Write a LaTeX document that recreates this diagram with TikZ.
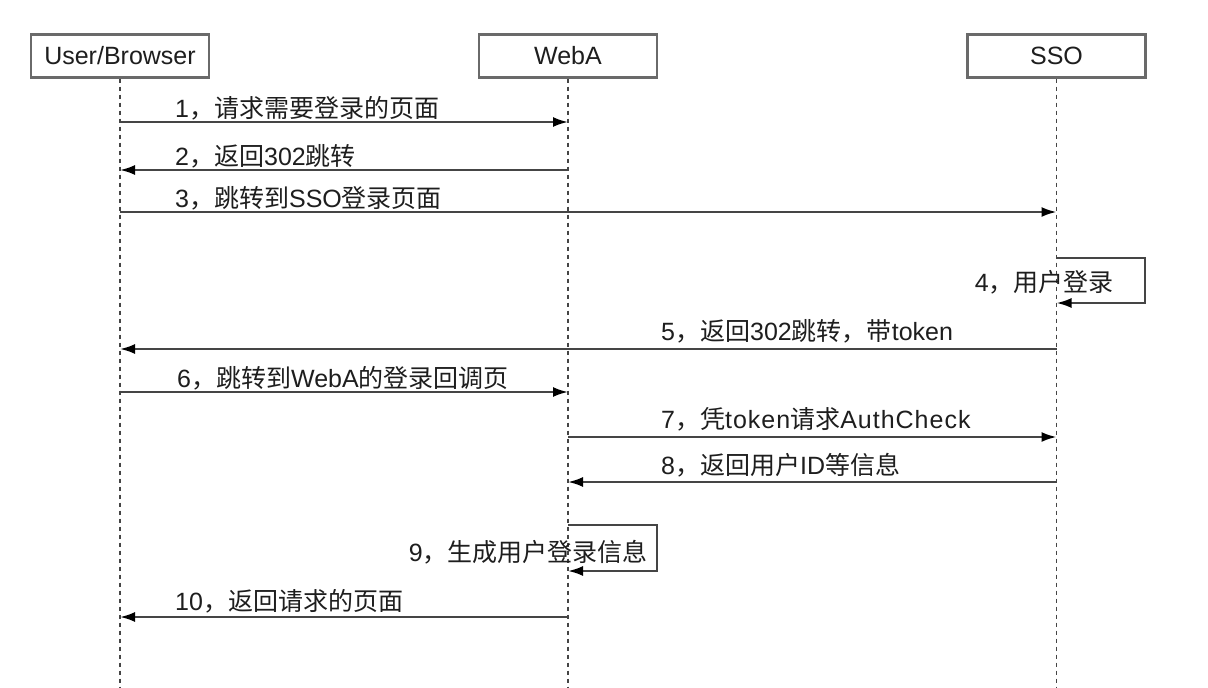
\documentclass[tikz,border=0pt]{standalone}
\usepackage{fontspec}
\setmainfont{Liberation Sans}
\newfontfamily\cjk{Noto Sans CJK SC}
\usetikzlibrary{arrows.meta}
\definecolor{linegray}{HTML}{454545}
\definecolor{boxgray}{HTML}{6A6A6A}
\definecolor{txt}{HTML}{1E1E1E}
\begin{document}
\begin{tikzpicture}[x=1pt,y=-1pt,
  actor/.style={draw=boxgray,line width=2.2pt,minimum width=178pt,minimum height=43pt,inner sep=0pt,
    font=\fontsize{25}{30}\selectfont,text=txt},
  life/.style={draw=linegray,line width=1.6pt,dash pattern=on 4pt off 4pt},
  msg/.style={draw=linegray,line width=2.2pt,-{Latex[length=15pt,width=10pt,color=black]}},
  lbl/.style={anchor=base west,inner sep=0pt,font=\fontsize{25}{30}\selectfont,text=txt}]
\useasboundingbox (0,0) rectangle (1208,688);
\fill[white] (0,0) rectangle (1208,688);
% actors
\node[actor] (ub) at (120,56) {User/Browser};
\node[actor] (wa) at (568,56) {WebA};
\node[actor] (sso) at (1056.5,56) {SSO};
% lifeline ends
\coordinate (ube) at (120,688);
\coordinate (wae) at (568,688);
\coordinate (ssoe) at (1056.5,688);
\draw[life] (ub.south) -- (ube);
\draw[life] (wa.south) -- (wae);
\draw[life] (sso.south) -- (ssoe);
% message points
\foreach \n/\y in {1/122,2/170,3/212,5/349,6/392,7/437,8/482,10/617}{
  \coordinate (u\n) at (120,\y);
  \coordinate (w\n) at (568,\y);
  \coordinate (s\n) at (1056.5,\y);
}
% 1
\draw[msg] (u1) -- (w1);
\node[lbl] (l1) at (175,117) {1{\cjk ，请求需要登录的页面}};
% 2
\draw[msg] (w2) -- (u2);
\node[lbl] (l2) at (175,165) {2{\cjk ，返回}302{\cjk 跳转}};
% 3
\draw[msg] (u3) -- (s3);
\node[lbl] (l3) at (175,207) {3{\cjk ，跳转到}SSO{\cjk 登录页面}};
% 4 self loop
\coordinate (s4a) at (1056.5,258);
\coordinate (s4b) at (1145,258);
\coordinate (s4c) at (1145,303);
\coordinate (s4d) at (1056.5,303);
\draw[msg] (s4a) -- (s4b) -- (s4c) -- (s4d);
\node[lbl,anchor=base east] (l4) at (1114,291) {4{\cjk ，用户登录}};
% 5
\draw[msg] (s5) -- (u5);
\node[lbl] (l5) at (661,340) {5{\cjk ，返回}302{\cjk 跳转，带}token};
% 6
\draw[msg] (u6) -- (w6);
\node[lbl] (l6) at (177,387) {6{\cjk ，跳转到}WebA{\cjk 的登录回调页}};
% 7
\draw[msg] (w7) -- (s7);
\node[lbl] (l7) at (661,428) {7{\cjk ，凭}\addfontfeature{LetterSpace=4}token{\cjk 请求}AuthCheck};
% 8
\draw[msg] (s8) -- (w8);
\node[lbl] (l8) at (661,474) {8{\cjk ，返回用户}ID{\cjk 等信息}};
% 9 self loop
\coordinate (w9a) at (568,525);
\coordinate (w9b) at (657,525);
\coordinate (w9c) at (657,571);
\coordinate (w9d) at (568,571);
\draw[msg] (w9a) -- (w9b) -- (w9c) -- (w9d);
\node[lbl,anchor=base east] (l9) at (648,561) {9{\cjk ，生成用户登录信息}};
% 10
\draw[msg] (w10) -- (u10);
\node[lbl] (l10) at (175,610) {10{\cjk ，返回请求的页面}};
\end{tikzpicture}
\end{document}
